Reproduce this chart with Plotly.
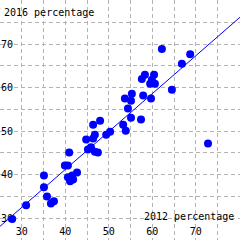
import numpy as np
import plotly.graph_objects as go

pct_2012 = [27.8, 31.0, 35.1, 35.1, 35.8, 36.7, 37.4, 39.9, 40.6, 40.9,
            40.6, 41.6, 42.7, 41.1, 41.8, 45.2, 45.9, 46.8, 47.5, 44.8,
            46.4, 46.8, 46.4, 48.0, 49.4, 50.3, 53.3, 53.9, 55.1, 57.4,
            54.4, 53.7, 55.1, 55.3, 59.7, 57.9, 58.3, 60.4, 57.6, 59.9,
            59.5, 60.6, 64.5, 66.8, 68.7, 62.2, 72.8]
pct_2016 = [29.8, 33.0, 39.8, 37.1, 35.0, 33.4, 33.9, 42.1, 42.1, 45.1,
            39.4, 39.8, 40.5, 38.5, 38.9, 45.8, 46.3, 45.3, 45.1, 48.1,
            48.3, 49.2, 51.5, 52.4, 49.2, 49.9, 51.5, 50.1, 53.1, 52.7,
            55.2, 57.5, 57.0, 58.6, 57.5, 58.2, 63.0, 63.0, 62.0, 61.8,
            60.9, 60.9, 59.5, 65.5, 67.7, 68.9, 47.2]

grid_vals = [30, 35, 40, 45, 50, 55, 60, 65, 70, 75]
tick_text = ["30", "", "40", "", "50", "", "60", "", "70", ""]
axis_range = [25, 80.15]

x = np.array(pct_2012)
y = np.array(pct_2016)
slope, intercept = np.polyfit(x, y, 1)
line_x = np.array(axis_range)
line_y = intercept + slope * line_x

BLUE = "#0000ff"
FONT = dict(family="DejaVu Sans Mono", size=10, color="black")

fig = go.Figure()
fig.add_trace(go.Scatter(x=line_x, y=line_y, mode="lines",
                         line=dict(color=BLUE, width=1), hoverinfo="skip"))
fig.add_trace(go.Scatter(x=x, y=y, mode="markers",
                         marker=dict(color=BLUE, size=8, line=dict(width=0))))

axis_common = dict(range=axis_range, tickvals=grid_vals, ticktext=tick_text,
                   showgrid=True, gridcolor="#b4b4b4", gridwidth=1,
                   griddash="4px,3px", zeroline=False, ticks="",
                   ticklabelposition="inside", tickfont=FONT,
                   layer="below traces", fixedrange=True)

fig.update_xaxes(**axis_common, showline=False)
fig.update_yaxes(**axis_common, showline=True, linecolor="black", linewidth=1)

fig.add_annotation(text="2016 percentage", xref="paper", yref="paper",
                   x=0, y=1, xanchor="left", yanchor="top", xshift=2, yshift=-5,
                   showarrow=False, font=FONT)
fig.add_annotation(text="2012 percentage", xref="paper", yref="paper",
                   x=1, y=0, xanchor="right", yanchor="bottom", xshift=-4, yshift=16,
                   showarrow=False, font=FONT)

fig.update_layout(width=240, height=240, margin=dict(l=0, r=0, t=0, b=0),
                  paper_bgcolor="white", plot_bgcolor="white",
                  showlegend=False)

fig.write_html("out.html")
